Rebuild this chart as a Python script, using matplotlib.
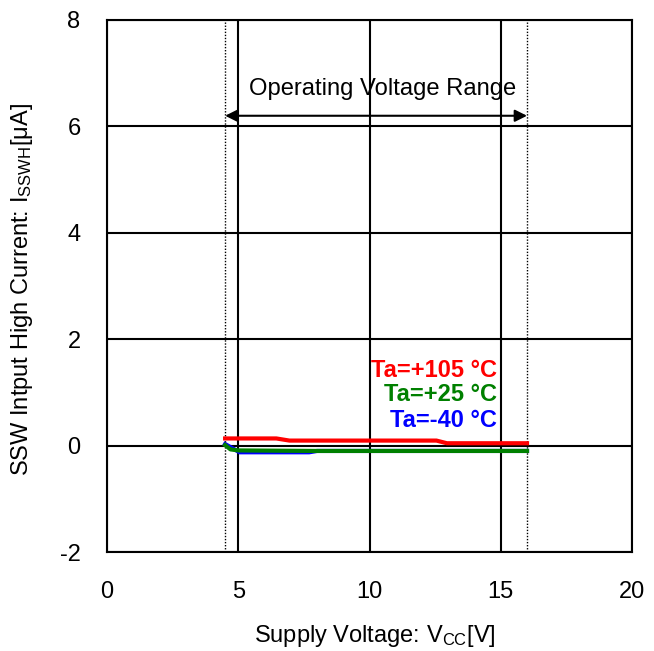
import matplotlib
matplotlib.use("Agg")
import matplotlib.pyplot as plt

plt.rcParams['font.family'] = ['Liberation Sans', 'DejaVu Sans']
plt.rcParams['mathtext.fontset'] = 'custom'
plt.rcParams['mathtext.rm'] = 'Liberation Sans'
plt.rcParams['mathtext.it'] = 'Liberation Sans'
plt.rcParams['axes.unicode_minus'] = False

# Data
v_red = [4.5, 6.45, 6.95, 12.55, 12.95, 16.0]
i_red = [0.135, 0.135, 0.095, 0.095, 0.045, 0.045]

v_green = [4.5, 4.7, 5.0, 8.0, 16.0]
i_green = [0.01, -0.07, -0.09, -0.10, -0.10]

v_blue = [4.5, 5.05, 7.7, 8.0, 16.0]
i_blue = [0.03, -0.125, -0.125, -0.10, -0.10]

labels = ["Ta=+105 °C", "Ta=+25 °C", "Ta=-40 °C"]
colors = ["#ff0000", "#008000", "#0000ff"]
label_y = [1.42, 0.96, 0.48]

x_ticks = [0, 5, 10, 15, 20]
y_ticks = [-2, 0, 2, 4, 6, 8]
op_range = [4.5, 16.0]

fig = plt.figure(figsize=(6.54, 6.51), dpi=100)
ax = fig.add_axes([0.1636, 0.152, 0.8028, 0.8173])
ax.set_xlim(0, 20)
ax.set_ylim(-2, 8)
ax.set_xticks(x_ticks)
ax.set_yticks(y_ticks)
ax.tick_params(length=0, labelsize=17)
ax.tick_params(axis='y', pad=19)
ax.tick_params(axis='x', pad=21)
for s in ax.spines.values():
    s.set_linewidth(1.5)
    s.set_color('black')
ax.grid(True, color='black', linewidth=1.5)
ax.set_axisbelow(True)

for x in op_range:
    ax.axvline(x, color='black', linestyle=(0, (1, 1.2)), linewidth=1.0)

ax.annotate('', xy=(op_range[0], 6.2), xytext=(op_range[1], 6.2),
            arrowprops=dict(arrowstyle='<|-|>', color='black', lw=1.5,
                            mutation_scale=18, shrinkA=0, shrinkB=0))
ax.text(10.5, 6.7, "Operating Voltage Range", ha='center', va='center', fontsize=17.1)

ax.plot(v_blue, i_blue, color=colors[2], lw=3, solid_joinstyle='round')
ax.plot(v_green, i_green, color=colors[1], lw=3, solid_joinstyle='round')
ax.plot(v_red, i_red, color=colors[0], lw=3, solid_joinstyle='round')

for lab, c, y in zip(labels, colors, label_y):
    ax.text(14.86, y, lab, color=c, fontsize=17, fontweight='bold', ha='right', va='center')

ax.set_xlabel("Supply Voltage: V$_{\\mathrm{CC}}$[V]", fontsize=17, va='center')
ax.set_ylabel("SSW Intput High Current: I$_{\\mathrm{SSWH}}$[μA]", fontsize=17, va='center')
ax.xaxis.set_label_coords(0.51, -0.158)
ax.yaxis.set_label_coords(-0.161, 0.494)

fig.savefig("out.png", dpi=100)
